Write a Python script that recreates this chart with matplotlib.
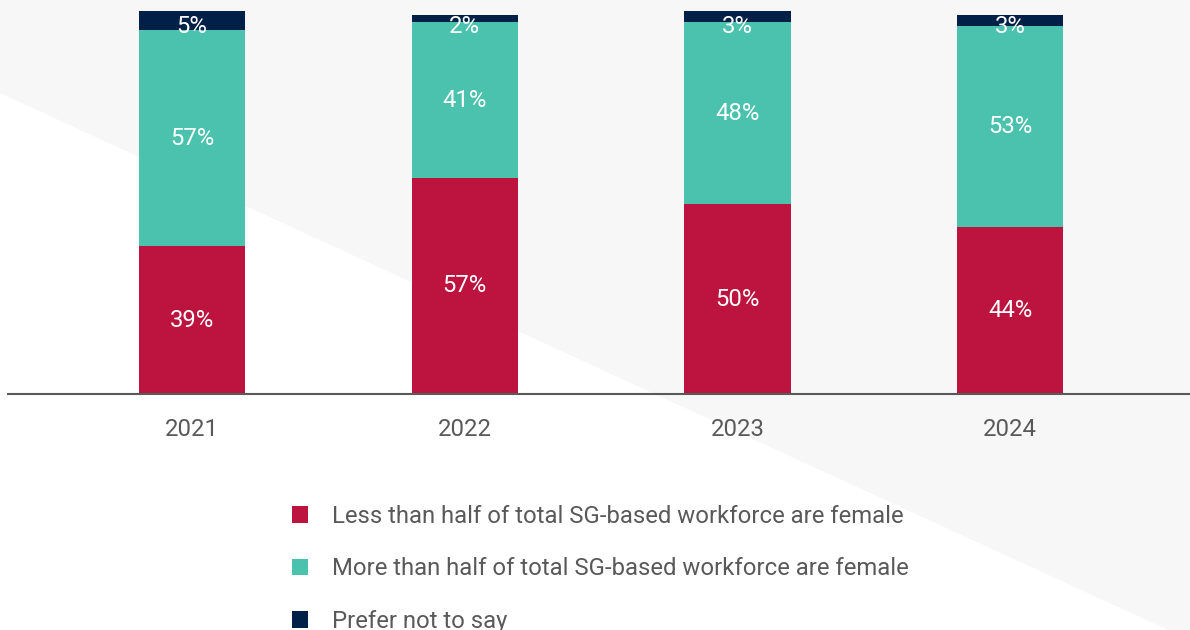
"""
Share of firms by female proportion of SG-based workforce, 2021-2024.
"""

import matplotlib.pyplot as plt
from matplotlib.patches import Polygon

plt.rcParams['font.family'] = ['Roboto', 'DejaVu Sans']

years = ['2021', '2022', '2023', '2024']
less_than_half = [39, 57, 50, 44]
more_than_half = [57, 41, 48, 53]
prefer_not = [5, 2, 3, 3]

series_labels = [
    'Less than half of total SG-based workforce are female',
    'More than half of total SG-based workforce are female',
    'Prefer not to say',
]
colors = ['#BC143E', '#4BC2AD', '#002047']
text_grey = '#595959'
fs = 17.2

fig = plt.figure(figsize=(11.9, 6.3), dpi=100)
fig.patch.set_facecolor('white')

# light grey backdrop cut by a diagonal
W, H = 1190, 630
corners = [(0, 0), (W, 0), (W, 640), (0, 93)]
backdrop = Polygon([(x / W, 1 - y / H) for x, y in corners], closed=True,
                   facecolor='#F7F7F8', edgecolor='none',
                   transform=fig.transFigure, zorder=-10)
fig.patches.append(backdrop)

ax = fig.add_axes([8 / W, (H - 394) / H, (W - 8) / W, 383 / H])
ax.set_facecolor('none')

x = range(len(years))
width = 0.39
bottom = [0] * len(years)
for values, color, label in zip([less_than_half, more_than_half, prefer_not],
                                colors, series_labels):
    bars = ax.bar(x, values, width, bottom=bottom, color=color, label=label)
    for rect, v, b in zip(bars, values, bottom):
        # keep labels of thin top segments inside the plot
        y = min(b + v / 2, 96.9)
        ax.text(rect.get_x() + rect.get_width() / 2, y, f'{v}%',
                ha='center', va='center', color='white', fontsize=fs)
    bottom = [b + v for b, v in zip(bottom, values)]

ax.set_xlim(-0.675, 3.66)
ax.set_ylim(0, 101)
ax.set_xticks(list(x))
ax.set_xticklabels(years, fontsize=fs, color=text_grey)
ax.tick_params(axis='x', length=0, pad=17.5)
ax.set_yticks([])
for side in ['top', 'right', 'left']:
    ax.spines[side].set_visible(False)
ax.spines['bottom'].set_color(text_grey)
ax.spines['bottom'].set_linewidth(1.5)

handles, labels = ax.get_legend_handles_labels()
leg = fig.legend(handles, labels, loc='upper left',
                 bbox_to_anchor=(292 / W, 1 - 505 / H), frameon=False,
                 fontsize=fs, handlelength=0.68, handleheight=0.68,
                 handletextpad=1.0, labelspacing=1.23, borderpad=0,
                 borderaxespad=0)
for t in leg.get_texts():
    t.set_color(text_grey)

fig.savefig('out.png', dpi=100, facecolor=fig.get_facecolor())
